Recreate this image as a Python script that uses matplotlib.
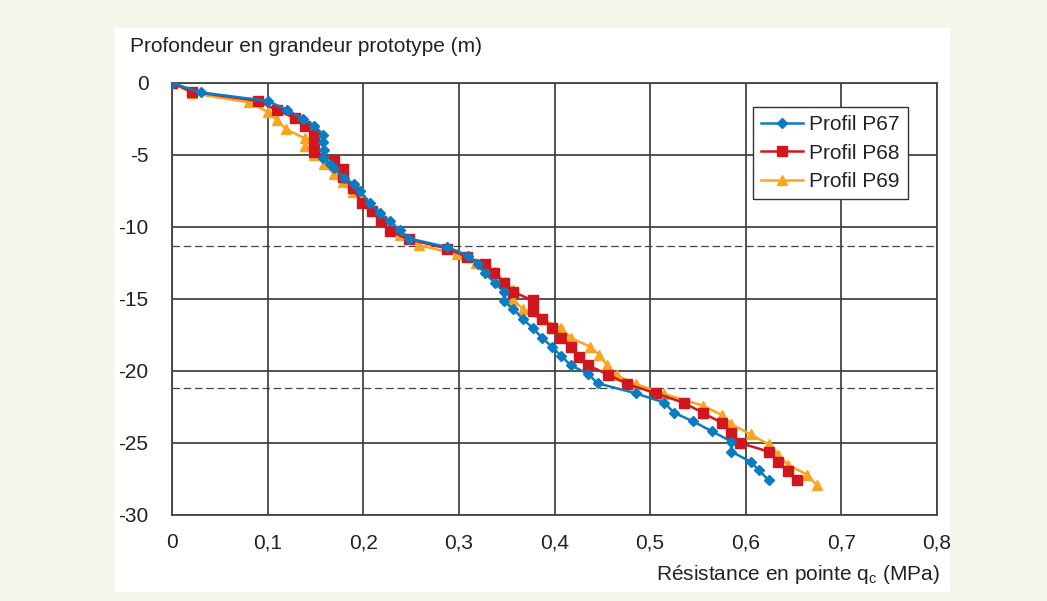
import matplotlib.pyplot as plt
from matplotlib.ticker import FuncFormatter, MultipleLocator

plt.rcParams['font.family'] = ['Liberation Sans', 'DejaVu Sans']

# ------------------------------------------------------------------#
# Profils (qc in MPa, depth in m)
p67_qc = [0, 0.030, 0.100, 0.120, 0.137, 0.149, 0.158, 0.158, 0.159, 0.158, 0.165,
          0.169, 0.180, 0.190, 0.197, 0.207, 0.218, 0.228, 0.238, 0.248, 0.288,
          0.310, 0.320, 0.327, 0.338, 0.347, 0.347, 0.357, 0.367, 0.377, 0.387,
          0.397, 0.407, 0.417, 0.435, 0.445, 0.485, 0.515, 0.525, 0.545, 0.565,
          0.585, 0.585, 0.605, 0.614, 0.624]
p67_z = [0, -0.65, -1.25, -1.85, -2.5, -2.96, -3.6, -4.1, -4.65, -5.2, -5.6,
         -5.9, -6.6, -7.0, -7.5, -8.35, -9.05, -9.6, -10.2, -10.8, -11.4,
         -12.0, -12.6, -13.2, -13.9, -14.5, -15.15, -15.7, -16.4, -17.0, -17.7,
         -18.3, -18.96, -19.6, -20.2, -20.85, -21.55, -22.2, -22.9, -23.5, -24.2,
         -24.9, -25.6, -26.3, -26.9, -27.6]

p68_qc = [0, 0.021, 0.090, 0.110, 0.129, 0.139, 0.149, 0.149, 0.149, 0.169, 0.179,
          0.179, 0.189, 0.199, 0.209, 0.219, 0.228, 0.248, 0.288, 0.308, 0.327,
          0.337, 0.347, 0.357, 0.377, 0.377, 0.387, 0.397, 0.407, 0.417, 0.426,
          0.435, 0.456, 0.476, 0.506, 0.535, 0.555, 0.575, 0.585, 0.594, 0.624,
          0.634, 0.644, 0.654]
p68_z = [0, -0.6, -1.25, -1.9, -2.45, -3.0, -3.6, -4.2, -4.77, -5.35, -5.95,
         -6.5, -7.3, -8.35, -8.9, -9.6, -10.3, -10.86, -11.5, -12.06, -12.6,
         -13.2, -13.9, -14.5, -15.1, -15.8, -16.4, -17.0, -17.7, -18.3, -19.0,
         -19.6, -20.25, -20.9, -21.55, -22.2, -22.9, -23.6, -24.3, -25.0, -25.6,
         -26.3, -26.97, -27.6]

p69_qc = [0, 0.021, 0.081, 0.100, 0.110, 0.119, 0.139, 0.139, 0.149, 0.159, 0.169,
          0.179, 0.189, 0.199, 0.209, 0.219, 0.228, 0.238, 0.258, 0.298, 0.318,
          0.338, 0.348, 0.357, 0.357, 0.367, 0.387, 0.407, 0.417, 0.437, 0.447,
          0.455, 0.465, 0.485, 0.515, 0.555, 0.575, 0.585, 0.605, 0.624, 0.634,
          0.644, 0.664, 0.674]
p69_z = [0, -0.7, -1.35, -2.0, -2.57, -3.2, -3.85, -4.4, -5.0, -5.6, -6.3,
         -6.85, -7.6, -8.2, -8.8, -9.35, -9.97, -10.55, -11.25, -11.9, -12.5,
         -13.1, -13.8, -14.4, -15.05, -15.7, -16.4, -17.0, -17.7, -18.3, -18.9,
         -19.6, -20.3, -20.9, -21.6, -22.4, -23.05, -23.7, -24.4, -25.1, -25.8,
         -26.5, -27.2, -27.9]

layer_depths = [-11.3, -21.2]

COLORS = {
    "blue": "#0B7CC1",
    "red": "#D2161E",
    "orange": "#F8A521",
    "grid": "#444444",
    "text": "#222222",
    "bg": "#F4F7EA",
}
FS = 15

# ------------------------------------------------------------------#
fig = plt.figure(figsize=(10.47, 6.01), dpi=100, facecolor=COLORS["bg"])

# white panel behind the chart
panel = fig.add_axes([115 / 1047, 1 - 592 / 601, 835 / 1047, 564 / 601], zorder=0)
panel.set_facecolor("white")
panel.set_xticks([])
panel.set_yticks([])
for s in panel.spines.values():
    s.set_visible(False)

ax = fig.add_axes([172 / 1047, 1 - 515 / 601, 765 / 1047, 432 / 601], zorder=1)
ax.set_facecolor("white")

ax.plot(p67_qc, p67_z, color=COLORS["blue"], lw=1.8, marker="D", ms=5,
        label="Profil P67", zorder=5)
ax.plot(p68_qc, p68_z, color=COLORS["red"], lw=1.8, marker="s", ms=7.5,
        label="Profil P68", zorder=4)
ax.plot(p69_qc, p69_z, color=COLORS["orange"], lw=1.8, marker="^", ms=7.5,
        label="Profil P69", zorder=3)

for d in layer_depths:
    ax.axhline(d, color=COLORS["grid"], lw=0.9, dashes=(6, 3), zorder=2)

ax.set_xlim(0, 0.8)
ax.set_ylim(-30, 0)
ax.xaxis.set_major_locator(MultipleLocator(0.1))
ax.yaxis.set_major_locator(MultipleLocator(5))
ax.xaxis.set_major_formatter(FuncFormatter(lambda x, pos: f"{x:.1f}".replace(".", ",") if abs(x) > 1e-9 else "0"))
ax.yaxis.set_major_formatter(FuncFormatter(lambda y, pos: f"{y:.0f}" if abs(y) > 1e-9 else "0"))
ax.grid(True, color=COLORS["grid"], lw=1.3, zorder=1)
ax.set_axisbelow(True)
for s in ax.spines.values():
    s.set_color(COLORS["grid"])
    s.set_linewidth(1.3)
ax.tick_params(length=0, labelsize=FS, colors=COLORS["text"])
ax.tick_params(axis="x", pad=13)
ax.tick_params(axis="y", pad=17)

fig.text(130 / 1047, 1 - 47 / 601, "Profondeur en grandeur prototype (m)",
         fontsize=FS, color=COLORS["text"], va="center", ha="left")
fig.text(940 / 1047, 1 - 574 / 601, "Résistance en pointe q$_\\mathregular{c}$ (MPa)",
         fontsize=FS, color=COLORS["text"], va="center", ha="right")

leg = ax.legend(loc="upper right", fontsize=FS, frameon=True, fancybox=False,
                borderpad=0.4, handlelength=2.0, labelspacing=0.45, handletextpad=0.3,
                borderaxespad=0)
leg.set_bbox_to_anchor(((908 - 172) / 765, 1 - (107 - 83) / 432), transform=ax.transAxes)
leg.get_frame().set_edgecolor("#333333")
leg.get_frame().set_linewidth(1.0)
leg.get_frame().set_alpha(1)
for t in leg.get_texts():
    t.set_color(COLORS["text"])

fig.savefig("out.png", dpi=100, facecolor=fig.get_facecolor())
